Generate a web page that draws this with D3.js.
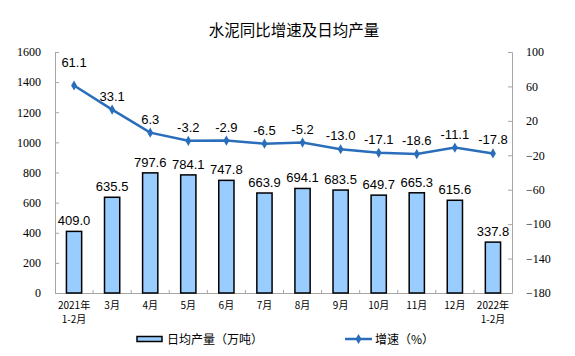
<!DOCTYPE html>
<html><head><meta charset="utf-8">
<script src="https://cdn.jsdelivr.net/npm/d3@7"></script>
<style>body{margin:0;background:#fff}svg{display:block}</style>
</head><body><svg id="c" width="575" height="356"></svg>
<script>
const categories = [["2021年","1-2月"],["3月"],["4月"],["5月"],["6月"],["7月"],["8月"],["9月"],["10月"],["11月"],["12月"],["2022年","1-2月"]];
const output = [409.0,635.5,797.6,784.1,747.8,663.9,694.1,683.5,649.7,665.3,615.6,337.8];
const growth = [61.1,33.1,6.3,-3.2,-2.9,-6.5,-5.2,-13.0,-17.1,-18.6,-11.1,-17.8];
const leftTicks = [0,200,400,600,800,1000,1200,1400,1600];
const rightTicks = [-180,-140,-100,-60,-20,20,60,100];
const title = "水泥同比增速及日均产量";
const legendBar = "日均产量（万吨）";
const legendLine = "增速（%）";

const svg = d3.select("#c");
const L = 55, R = 512, T = 52, B = 293;
const x = d3.scaleBand().domain(d3.range(categories.length)).range([L, R]).paddingInner(0.6).paddingOuter(0.3);
const xb = d3.scaleBand().domain(d3.range(categories.length)).range([L, R]);
const yL = d3.scaleLinear().domain([0,1600]).range([B, T]);
const yR = d3.scaleLinear().domain([-180,100]).range([B, T]);
const axisCol = "#a6a6a6";
const blue = "#2a6ebb";

svg.append("text").attr("x", 294).attr("y", 36).attr("text-anchor","middle")
  .attr("font-family","'Noto Sans CJK SC'").attr("font-size",15.5).attr("fill","#000").text(title);

// left axis
const gl = svg.append("g").attr("transform",`translate(${L},0)`)
  .call(d3.axisLeft(yL).tickValues(leftTicks).tickSize(-4).tickPadding(14).tickFormat(d3.format("d")));
gl.select(".domain").attr("stroke",axisCol);
gl.selectAll(".tick line").attr("stroke",axisCol);
gl.selectAll("text").attr("font-family","'Liberation Serif'").attr("font-size",12).attr("fill","#000");

// right axis
const gr = svg.append("g").attr("transform",`translate(${R},0)`)
  .call(d3.axisRight(yR).tickValues(rightTicks).tickSize(-4).tickPadding(14).tickFormat(d3.format("d")));
gr.select(".domain").attr("stroke",axisCol);
gr.selectAll(".tick line").attr("stroke",axisCol);
gr.selectAll("text").attr("font-family","'Liberation Serif'").attr("font-size",12).attr("fill","#000");

// x axis
svg.append("line").attr("x1",L).attr("x2",R).attr("y1",B+0.5).attr("y2",B+0.5).attr("stroke",axisCol);
svg.selectAll(".xt").data(d3.range(1,categories.length)).join("line")
  .attr("x1",d=>xb(d)).attr("x2",d=>xb(d)).attr("y1",B).attr("y2",B-3).attr("stroke",axisCol);

// bars
svg.selectAll(".bar").data(output).join("rect")
  .attr("x",(d,i)=>x(i)).attr("width",x.bandwidth())
  .attr("y",d=>yL(d)).attr("height",d=>B-yL(d))
  .attr("fill","#99ccff").attr("stroke","#000").attr("stroke-width",1.5);
svg.selectAll(".bl").data(output).join("text")
  .attr("x",(d,i)=>x(i)+x.bandwidth()/2).attr("y",d=>yL(d)-6)
  .attr("text-anchor","middle").attr("font-family","'Liberation Sans'").attr("font-size",13).attr("fill","#000")
  .text(d=>d.toFixed(1));

// category labels
categories.forEach((c,i)=>{
  c.forEach((s,j)=>{
    svg.append("text").attr("x",xb(i)+xb.bandwidth()/2).attr("y",308.5+j*14.6)
      .attr("text-anchor","middle").attr("font-family","'Noto Sans CJK SC'").attr("font-size",10).attr("fill","#000").text(s);
  });
});

// line
const line = d3.line().x((d,i)=>xb(i)+xb.bandwidth()/2).y(d=>yR(d));
svg.append("path").datum(growth).attr("d",line).attr("fill","none").attr("stroke",blue).attr("stroke-width",2.5);
const diamond = d3.symbol().type(d3.symbolDiamond).size(30);
svg.selectAll(".pt").data(growth).join("path")
  .attr("transform",(d,i)=>`translate(${xb(i)+xb.bandwidth()/2},${yR(d)})`).attr("d",diamond).attr("fill",blue);
svg.selectAll(".ll").data(growth).join("text")
  .attr("x",(d,i)=>xb(i)+xb.bandwidth()/2).attr("y",(d,i)=>yR(d)-(i===0?18:9))
  .attr("text-anchor","middle").attr("font-family","'Liberation Sans'").attr("font-size",13).attr("fill","#000")
  .text(d=>d.toFixed(1));

// legend
svg.append("rect").attr("x",137).attr("y",336.5).attr("width",25).attr("height",5)
  .attr("fill","#99ccff").attr("stroke","#000").attr("stroke-width",1.5);
svg.append("text").attr("x",167).attr("y",344).attr("font-family","'Noto Sans CJK SC'").attr("font-size",12).attr("fill","#000").text(legendBar);
svg.append("line").attr("x1",345).attr("x2",372).attr("y1",339).attr("y2",339).attr("stroke",blue).attr("stroke-width",2.5);
svg.append("path").attr("transform","translate(358.5,339)").attr("d",diamond).attr("fill",blue);
svg.append("text").attr("x",375).attr("y",344).attr("font-family","'Noto Sans CJK SC'").attr("font-size",12).attr("fill","#000").text(legendLine);
</script></body></html>
